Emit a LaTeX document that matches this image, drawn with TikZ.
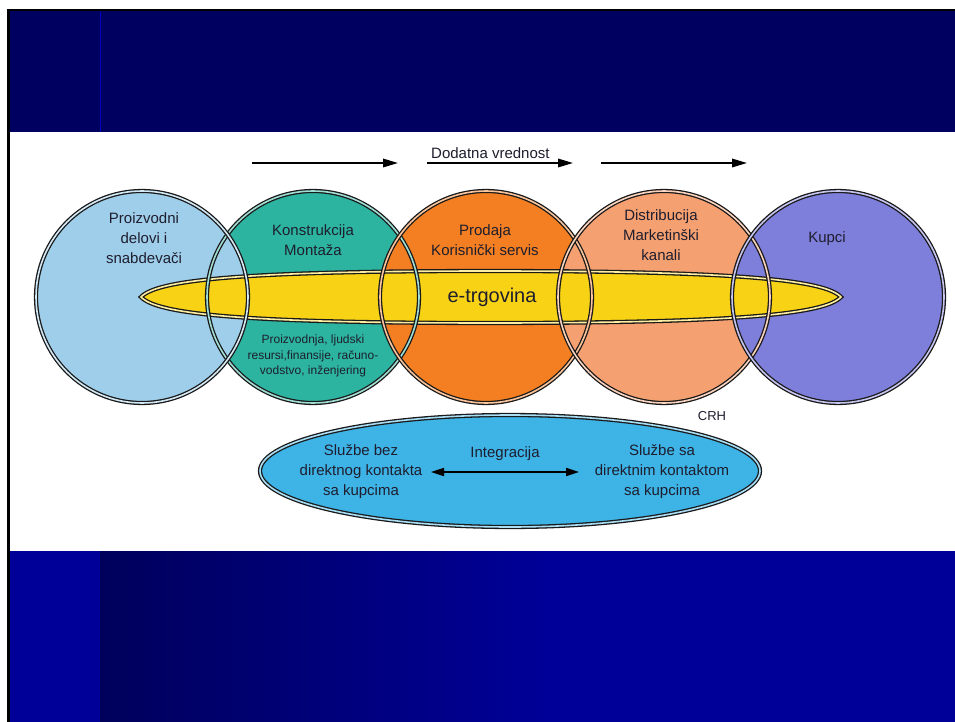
\documentclass[tikz,border=0pt]{standalone}
\usepackage{fontspec}
\setmainfont{Liberation Sans}
\usetikzlibrary{arrows.meta,shapes.geometric}
\definecolor{navytop}{HTML}{000060}
\definecolor{navybot}{HTML}{000099}
\definecolor{navydark}{HTML}{00005C}
\definecolor{cA}{HTML}{9FCEEB}
\definecolor{cB}{HTML}{2CB4A0}
\definecolor{cC}{HTML}{F37F22}
\definecolor{cD}{HTML}{F5A071}
\definecolor{cE}{HTML}{7E7EDB}
\definecolor{cY}{HTML}{F8D315}
\definecolor{cS}{HTML}{3DB3E6}
\definecolor{ink}{HTML}{1E1E2E}
\tikzset{
  disk/.style={circle,minimum size=212pt,inner sep=0pt,fill=#1},
  ring/.style={draw=black!90,line width=1.3pt,double=#1,double distance=1.6pt},
  lbl/.style={text=ink,align=center,inner sep=0pt,font=\fontsize{15}{20}\selectfont},
  small/.style={text=ink,align=center,inner sep=0pt,font=\fontsize{12}{15.5}\selectfont},
  flow/.style={line width=1.7pt,-{Triangle[length=15pt,width=8.5pt]}},
  both/.style={line width=1.7pt,{Triangle[length=13pt,width=8pt]}-{Triangle[length=13pt,width=8pt]}}
}
\begin{document}
\begin{tikzpicture}[x=1pt,y=-1pt]
\useasboundingbox (0,0) rectangle (955,722);
\fill[white] (0,0) rectangle (955,722);
% frame and bands
\fill[navytop] (9,11) rectangle (955,132);
\draw[blue!60!navytop,line width=1pt] (100,11) -- (100,132);
\fill[navybot] (9,551) rectangle (100,722);
\shade[left color=navydark,right color=navybot] (100,551) rectangle (560,722);
\fill[navybot] (559,551) rectangle (955,722);
\fill[black] (7,9) rectangle (955,11.5);
\fill[black] (7,9) rectangle (9.5,722);
% circle fills
\node[disk=cB] (c2) at (313,297) {};
\node[disk=cA] (c1) at (142,297) {};
\node[disk=cC] (c3) at (486,297) {};
\node[disk=cD] (c4) at (664,297) {};
\node[disk=cE] (c5) at (838,297) {};
% e-commerce lens
\draw[ring=cY!40!white,fill=cY] (490,271) .. controls (740,271) and (825,280) .. (841,297)
  .. controls (825,314) and (740,323) .. (490,323)
  .. controls (240,323) and (157,314) .. (141,297)
  .. controls (157,280) and (240,271) .. (490,271) -- cycle;
% circle outlines
\draw[ring=cB!45!white] (c2.center) circle[radius=106pt];
\draw[ring=cA!45!white] (c1.center) circle[radius=106pt];
\draw[ring=cC!45!white] (c3.center) circle[radius=106pt];
\draw[ring=cD!45!white] (c4.center) circle[radius=106pt];
\draw[ring=cE!45!white] (c5.center) circle[radius=106pt];
% circle texts
\node[lbl] (t1) at (144,238) {Proizvodni\\delovi i\\snabdevači};
\node[lbl] (t2) at (313,240) {Konstrukcija\\Montaža};
\node[small] (t2b) at (313,356) {Proizvodnja, ljudski\\resursi,finansije, računo-\\vodstvo, inženjering};
\node[lbl] (t3) at (485,240) {Prodaja\\Korisnički servis};
\node[lbl] (t4) at (661,235) {Distribucija\\Marketinški\\kanali};
\node[lbl] (t5) at (827,239) {Kupci};
\node[text=ink,inner sep=0pt,font=\fontsize{20}{24}\selectfont] (ec) at (492,297) {e-trgovina};
% top arrows
\coordinate (a1s) at (252,163); \coordinate (a1e) at (398,163);
\coordinate (a2s) at (427,163); \coordinate (a2e) at (573,163);
\coordinate (a3s) at (601,163); \coordinate (a3e) at (747,163);
\draw[flow] (a1s) -- (a1e);
\draw[flow] (a2s) -- (a2e);
\draw[flow] (a3s) -- (a3e);
\node[lbl,anchor=west] (dv) at (431,153) {Dodatna vrednost};
% bottom ellipse
\node[ellipse,minimum width=500pt,minimum height=112pt,inner sep=0pt,fill=cS,ring=cS!45!white] (svc) at (510,471) {};
\node[lbl] (sl) at (361,472) {Službe bez\\direktnog kontakta\\sa kupcima};
\node[lbl] (sr) at (662,472) {Službe sa\\direktnim kontaktom\\sa kupcima};
\node[lbl] (integ) at (505,454) {Integracija};
\coordinate (bl) at (431,472); \coordinate (br) at (579,472);
\draw[both] (bl) -- (br);
\node[text=ink,inner sep=0pt,font=\fontsize{13}{15}\selectfont] (crh) at (712,416) {CRH};
\end{tikzpicture}
\end{document}
